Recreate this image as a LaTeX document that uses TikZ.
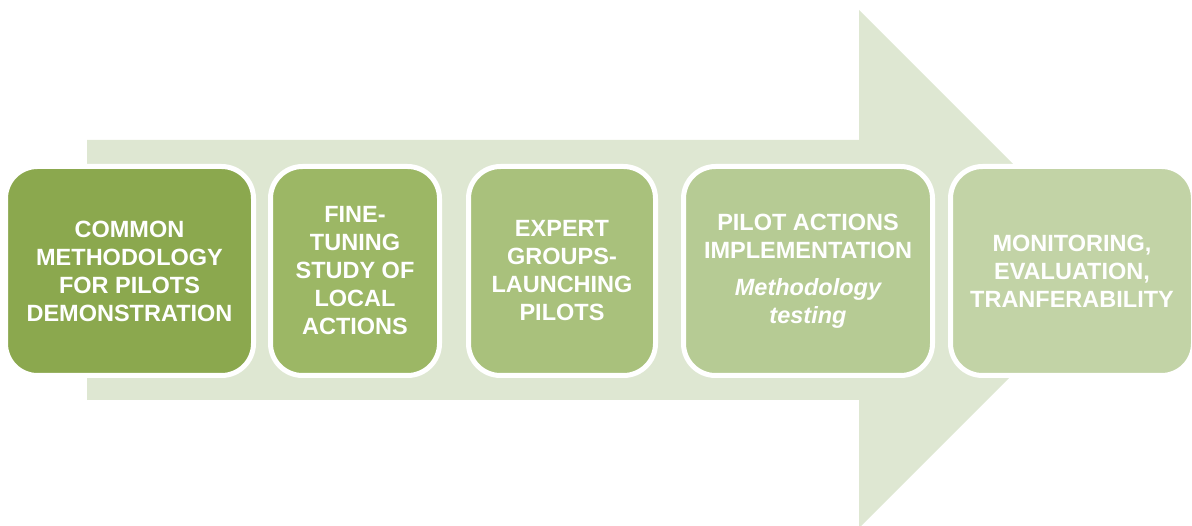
\documentclass[tikz,border=0pt]{standalone}
\usepackage{fontspec}
\setmainfont{Liberation Sans}
\usetikzlibrary{positioning}
\definecolor{arrowgreen}{RGB}{222,231,210}
\definecolor{stageone}{RGB}{139,168,78}
\definecolor{stagetwo}{RGB}{156,183,101}
\definecolor{stagethree}{RGB}{169,193,124}
\definecolor{stagefour}{RGB}{182,203,148}
\definecolor{stagefive}{RGB}{194,211,166}

\begin{document}
\begin{tikzpicture}[
			x=1pt, y=-1pt,
			stage/.style={rectangle, draw=white, line width=5pt, rounded corners=32pt, inner sep=0pt, outer sep=0pt, minimum height=209pt, align=center, text=white, font=\fontsize{23.5}{28}\selectfont\bfseries}
		]
		\useasboundingbox (0,0) rectangle (1192,526);
		\clip (0,0) rectangle (1192,526);
		
		% Big background arrow
		\fill[arrowgreen] (87,140) -- (859,140) -- (859,10) -- (1118,269) -- (859,528) -- (859,400) -- (87,400) -- cycle;
		
		% Stages along the arrow
		\node[stage, fill=stageone, minimum width=248pt] (common) at (129.5,271) {COMMON\\METHODOLOGY\\FOR PILOTS\\DEMONSTRATION};
		\node[stage, fill=stagetwo, minimum width=169pt, right=17pt of common] (finetune) {FINE-\\TUNING\\STUDY OF\\LOCAL\\ACTIONS};
		\node[stage, fill=stagethree, minimum width=187pt, right=29pt of finetune] (expert) {EXPERT\\GROUPS-\\LAUNCHING\\PILOTS};
		\node[stage, fill=stagefour, minimum width=249pt, right=28pt of expert] (pilot) {PILOT ACTIONS\\IMPLEMENTATION\\[9pt]{\itshape Methodology}\\{\itshape testing}};
		\node[stage, fill=stagefive, minimum width=243pt, right=18pt of pilot] (monitor) {MONITORING,\\EVALUATION,\\TRANFERABILITY};
		\end{tikzpicture}
\end{document}
